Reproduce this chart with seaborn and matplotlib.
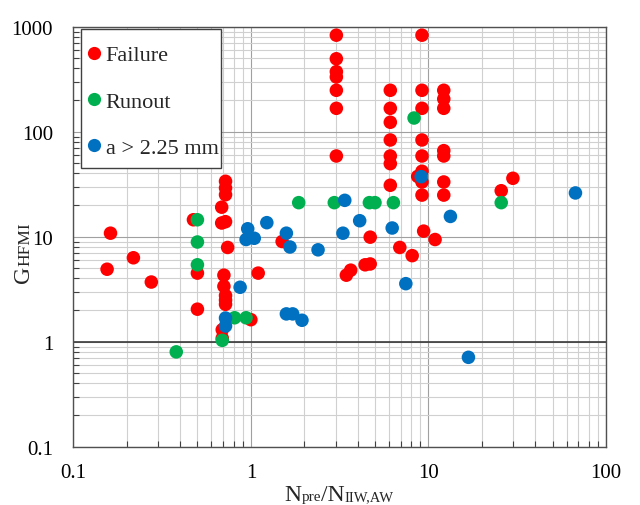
import matplotlib
matplotlib.use("Agg")
import matplotlib.pyplot as plt
import matplotlib.ticker as mticker
from matplotlib.patches import Rectangle
import numpy as np
import pandas as pd
import seaborn as sns

# N_pre / N_IIW,AW (x) and G_HFMI (y) for each test outcome
failure_x = [3.03, 3.03, 3.03, 3.03, 3.03, 3.03, 3.03,
             9.2, 9.2, 9.2, 9.2, 9.2, 9.2, 8.7, 9.2, 9.2, 9.4,
             6.1, 6.1, 6.1, 6.1, 6.1, 6.1, 6.1,
             12.2, 12.2, 12.2, 12.2, 12.2, 12.2, 12.2,
             29.9, 25.7,
             10.9, 6.9, 8.1, 4.7, 4.4, 4.7, 3.45, 3.65,
             0.162, 0.218, 0.155, 0.275,
             0.475, 0.5, 0.5,
             0.685, 0.72, 0.72, 0.72, 0.685, 0.72, 0.74,
             0.705, 0.705, 0.72, 0.72, 0.72, 0.69, 0.69,
             1.0, 1.1, 1.5]
failure_y = [830, 495, 373, 332, 248, 167, 58.7,
             830, 248, 167, 83.4, 58.7, 42, 37.5, 33.2, 24.9, 11.3,
             248, 167, 123, 83.4, 58.7, 49.6, 30.9,
             248, 205, 167, 66, 58.7, 33.2, 24.9,
             36, 27.4,
             9.4, 7.9, 6.6, 9.9, 5.4, 5.5, 4.3, 4.8,
             10.8, 6.3, 4.9, 3.7,
             14.5, 4.5, 2.04,
             19.1, 33.7, 29.1, 25.1, 13.5, 13.9, 7.9,
             4.3, 3.37, 2.75, 2.49, 2.27, 1.30, 1.08,
             1.62, 4.5, 9.0]

runout_x = [0.38, 0.5, 0.5, 0.5, 0.69, 0.81, 0.94, 1.86, 2.95, 4.65, 5.0,
            6.35, 8.3, 25.7]
runout_y = [0.80, 14.5, 8.9, 5.4, 1.03, 1.69, 1.69, 21.1, 21.1, 21.1, 21.1,
            21.1, 135, 21.1]

crack_x = [0.72, 0.72, 0.87, 0.96, 0.94, 1.045, 1.23, 1.585, 1.66, 1.585, 1.72,
           1.94, 2.39, 3.38, 3.3, 4.1, 6.25, 7.46, 9.1, 13.3, 16.8, 67.3]
crack_y = [1.68, 1.41, 3.3, 11.9, 9.4, 9.66, 13.6, 10.8, 7.98, 1.84, 1.84,
           1.60, 7.5, 22.2, 10.8, 14.2, 12.1, 3.57, 37.3, 15.6, 0.71, 26.1]

outcomes = ["Failure", "Runout", "a > 2.25 mm"]
colors = ["#FF0000", "#00B050", "#0070C0"]
x_ticks = [0.1, 1, 10, 100]
y_ticks = [0.1, 1, 10, 100, 1000]

df = pd.concat([
    pd.DataFrame({"x": failure_x, "y": failure_y, "outcome": outcomes[0]}),
    pd.DataFrame({"x": runout_x, "y": runout_y, "outcome": outcomes[1]}),
    pd.DataFrame({"x": crack_x, "y": crack_y, "outcome": outcomes[2]}),
], ignore_index=True)

sns.set_theme(style="white")
plt.rcParams["font.family"] = ["Liberation Serif", "DejaVu Serif"]
plt.rcParams["axes.unicode_minus"] = False

fig = plt.figure(figsize=(6.4, 5.06), dpi=100)
ax = fig.add_axes([0.11453, 0.11522, 0.83234, 0.83004])

ax.set_xscale("log")
ax.set_yscale("log")
ax.set_xlim(0.1, 100)
ax.set_ylim(0.1, 1000)

# grid
ax.set_axisbelow(True)
ax.grid(which="minor", color="#D0D0D0", lw=0.8)
ax.grid(which="major", color="#A0A0A0", lw=0.8)
ax.axhline(1, color="#3A3A3A", lw=1.2, zorder=1.5)

sns.scatterplot(data=df, x="x", y="y", hue="outcome", hue_order=outcomes,
                palette=colors, s=95, linewidth=0, alpha=1, ax=ax, zorder=3)

# ticks
ax.xaxis.set_major_locator(mticker.FixedLocator(x_ticks))
ax.yaxis.set_major_locator(mticker.FixedLocator(y_ticks))
ax.xaxis.set_major_formatter(mticker.FixedFormatter([f"{v:g}" for v in x_ticks]))
ax.yaxis.set_major_formatter(mticker.FixedFormatter([f"{v:g}" for v in y_ticks]))
ax.xaxis.set_minor_locator(mticker.LogLocator(base=10, subs=np.arange(2, 10), numticks=20))
ax.yaxis.set_minor_locator(mticker.LogLocator(base=10, subs=np.arange(2, 10), numticks=20))
ax.xaxis.set_minor_formatter(mticker.NullFormatter())
ax.yaxis.set_minor_formatter(mticker.NullFormatter())
ax.tick_params(which="major", direction="out", length=4.5, width=0.8,
               color="#404040", labelsize=15, labelcolor="black")
ax.tick_params(axis="x", which="major", pad=7)
ax.tick_params(axis="y", which="major", pad=10)
ax.tick_params(which="minor", direction="in", length=4, width=0.8,
               color="#404040", left=True, bottom=True)
for sp in ax.spines.values():
    sp.set_visible(True)
    sp.set_color("#505050")
    sp.set_linewidth(1.0)

ax.set_xlabel("")
ax.set_ylabel("")

# x-axis label: N_pre / N_IIW,AW with the small parts on the baseline
xb = -0.127
t1 = ax.text(0.3961, xb, "N", transform=ax.transAxes, fontsize=17,
             ha="left", va="baseline")
t2 = ax.annotate("pre", xy=(1, xb), xycoords=(t1, ax.transAxes), fontsize=11,
                 ha="left", va="baseline", annotation_clip=False)
t3 = ax.annotate("/N", xy=(1, xb), xycoords=(t2, ax.transAxes), fontsize=17,
                 ha="left", va="baseline", annotation_clip=False)
ax.annotate("IIW,AW", xy=(1, xb), xycoords=(t3, ax.transAxes), fontsize=10.5,
            ha="left", va="baseline", annotation_clip=False)

# y-axis label: G_HFMI
yb = -0.0825
g = ax.text(yb, 0.3914, "G", transform=ax.transAxes, fontsize=17, rotation=90,
            rotation_mode="anchor", ha="left", va="baseline")
ax.annotate("HFMI", xy=(yb, 1), xycoords=(ax.transAxes, g), fontsize=12.5,
            rotation=90, rotation_mode="anchor", ha="left", va="baseline",
            annotation_clip=False)

# legend entries and a square frame around them
handles, labels = ax.get_legend_handles_labels()
for h in handles:
    h.set_markersize(9.5)
    h.set_markeredgewidth(0)
leg = ax.legend(handles, labels, loc="upper left",
                bbox_to_anchor=(8 / 532.7, 1 - 9.3 / 420), borderaxespad=0,
                fontsize=16, frameon=False, borderpad=0.4, handlelength=0.3,
                handletextpad=0.4, labelspacing=1.15)
ax.add_patch(Rectangle((0.0150, 0.6636), 0.2767 - 0.0150, 0.9945 - 0.6636,
                       transform=ax.transAxes, fill=True, facecolor="white",
                       edgecolor="#404040", lw=1.0, zorder=4))
leg.set_zorder(5)

fig.savefig("out.png", dpi=100)
